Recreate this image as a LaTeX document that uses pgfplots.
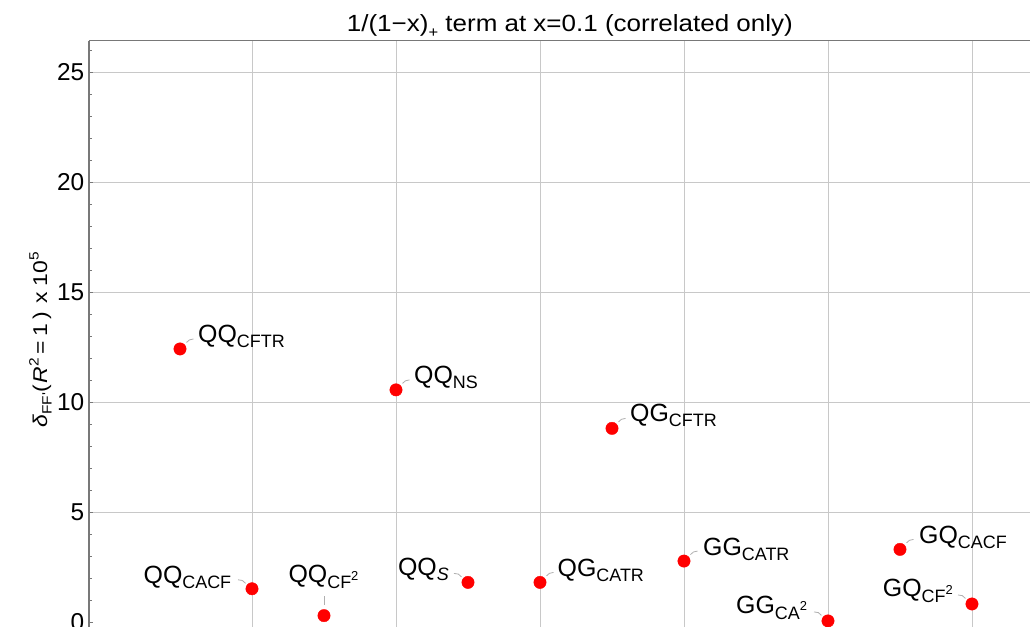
\documentclass[border=0pt]{standalone}
\usepackage{fontspec}
\setmainfont{Liberation Sans}
\newfontfamily\titlefont[FakeStretch=1.11]{Liberation Sans}
\newfontfamily\labfont[FakeStretch=1.15]{Liberation Sans}
\usepackage{pgfplots}
\pgfplotsset{compat=1.18}
\newcommand\sub[1]{\raisebox{-5bp}{\fontsize{18}{18}\selectfont #1}}
\newcommand\subsq[1]{\raisebox{-6bp}{\fontsize{18}{18}\selectfont #1\raisebox{8.5bp}{\fontsize{13}{13}\selectfont 2}}}
\definecolor{gridc}{RGB}{200,200,200}
\definecolor{axc}{RGB}{120,120,120}
\definecolor{leadc}{RGB}{175,175,175}
\tikzset{
  lab/.style={inner sep=0pt, font=\fontsize{25}{30}\selectfont},
  lead/.style={draw=leadc, line width=0.8bp},
}
\begin{document}
\begin{tikzpicture}
\useasboundingbox (-89bp,0) rectangle (941bp,627bp);
\clip (-89bp,0) rectangle (941bp,627bp);
\begin{axis}[
  at={(0,0)}, anchor=south west,
  scale only axis, width=941bp, height=586.3bp,
  xmin=-0.264, xmax=12.806, ymin=-0.227, ymax=26.42,
  axis x line=top, axis y line=left,
  axis line style={-, draw=axc, line width=1.1bp},
  xtick={2,4,6,8,10,12}, xticklabels={}, xmajorticks=false,
  ytick={5,10,15,20,25},
  extra y ticks={0}, extra y tick style={grid=none},
  minor ytick={0,1,...,26},
  tick align=inside,
  major tick length=4.5bp, minor tick length=2.7bp,
  tick style={draw=axc, line width=0.8bp},
  grid=major,
  major grid style={draw=gridc, line width=0.8bp},
  minor grid style={draw=none},
  /pgf/number format/assume math mode=true,
  yticklabel style={font=\fontsize{24.5}{30}\selectfont, inner sep=0pt, xshift=-4.5bp},
  ylabel={\fontsize{20}{24}\selectfont\labfont\itshape δ\upshape\raisebox{-4.5bp}{\fontsize{13.5}{14}\selectfont FF'}(\hspace{2bp}\textit{R}\raisebox{8.5bp}{\fontsize{13.5}{14}\selectfont 2}\hspace{4bp}=\hspace{4bp}1\hspace{4bp})\ \hspace{2bp}x\ 10\raisebox{8.5bp}{\fontsize{13.5}{14}\selectfont 5}},
  ylabel style={at={(axis description cs:-0.0446,0.49)}, anchor=base, inner sep=0pt},
  clip=false,
]
\addplot[only marks, mark=*, mark size=6.2bp, color=red, mark options={draw=red, fill=red}]
  coordinates {(1,12.41) (2,1.51) (3,0.29) (4,10.55) (5,1.80) (6,1.80) (7,8.80) (8,2.77) (10,0.05) (11,3.30) (12,0.82)};
% title
\node[anchor=base, inner sep=0pt, yshift=9bp, font=\fontsize{23.5}{28}\titlefont] at (rel axis cs:0.511,1)
  {1/(1−x)\raisebox{-6bp}{\fontsize{15}{15}\selectfont +} term at x=0.1 (correlated only)};
% right-up labels
\node[lab, anchor=base west, xshift=18bp, yshift=6bp] at (axis cs:1,12.41) {QQ\sub{CFTR}};
\node[lab, anchor=base west, xshift=18bp, yshift=6bp] at (axis cs:4,10.55) {QQ\sub{NS}};
\node[lab, anchor=base west, xshift=18bp, yshift=7bp] at (axis cs:7,8.80) {QG\sub{CFTR}};
\node[lab, anchor=base west, xshift=19bp, yshift=6bp] at (axis cs:8,2.77) {GG\sub{CATR}};
\node[lab, anchor=base west, xshift=19bp, yshift=6bp] at (axis cs:11,3.30) {GQ\sub{CACF}};
\node[lab, anchor=base west, xshift=17.5bp, yshift=6bp] at (axis cs:6,1.80) {QG\sub{CATR}};
\draw[lead] (axis cs:1,12.41) ++(6.5bp,6.5bp) to[out=60,in=190] ++(7bp,3.5bp);
\draw[lead] (axis cs:4,10.55) ++(6.5bp,6.5bp) to[out=60,in=190] ++(7bp,3.5bp);
\draw[lead] (axis cs:7,8.80) ++(6.5bp,6.5bp) to[out=60,in=190] ++(7bp,3.5bp);
\draw[lead] (axis cs:8,2.77) ++(6.5bp,6.5bp) to[out=60,in=190] ++(7bp,3.5bp);
\draw[lead] (axis cs:11,3.30) ++(6.5bp,6.5bp) to[out=60,in=190] ++(7bp,3.5bp);
\draw[lead] (axis cs:6,1.80) ++(6.5bp,6.5bp) to[out=60,in=190] ++(7bp,3.5bp);
% left labels
\node[lab, anchor=base east, xshift=-19bp, yshift=7bp] at (axis cs:5,1.80) {QQ\sub{\itshape S}};
\node[lab, anchor=base east, xshift=-20.6bp, yshift=5.6bp] at (axis cs:2,1.51) {QQ\sub{CACF}};
\node[lab, anchor=base east, xshift=-20.7bp, yshift=7.7bp] at (axis cs:10,0.05) {GG\subsq{CA}};
\node[lab, anchor=base east, xshift=-19bp, yshift=7.3bp] at (axis cs:12,0.82) {GQ\subsq{CF}};
\draw[lead] (axis cs:5,1.80) ++(-6.5bp,5.5bp) to[out=120,in=0] ++(-7.5bp,3.5bp);
\draw[lead] (axis cs:2,1.51) ++(-6.5bp,5.5bp) to[out=120,in=0] ++(-7.5bp,3.5bp);
\draw[lead] (axis cs:10,0.05) ++(-6.5bp,5.5bp) to[out=120,in=0] ++(-7.5bp,3.5bp);
\draw[lead] (axis cs:12,0.82) ++(-6.5bp,5.5bp) to[out=120,in=0] ++(-7.5bp,3.5bp);
% above label
\node[lab, anchor=base, xshift=-0.5bp, yshift=33bp] at (axis cs:3,0.29) {QQ\subsq{CF}};
\draw[lead] (axis cs:3,0.29) ++(0bp,10.5bp) -- ++(0bp,9bp);
\end{axis}
\end{tikzpicture}
\end{document}
